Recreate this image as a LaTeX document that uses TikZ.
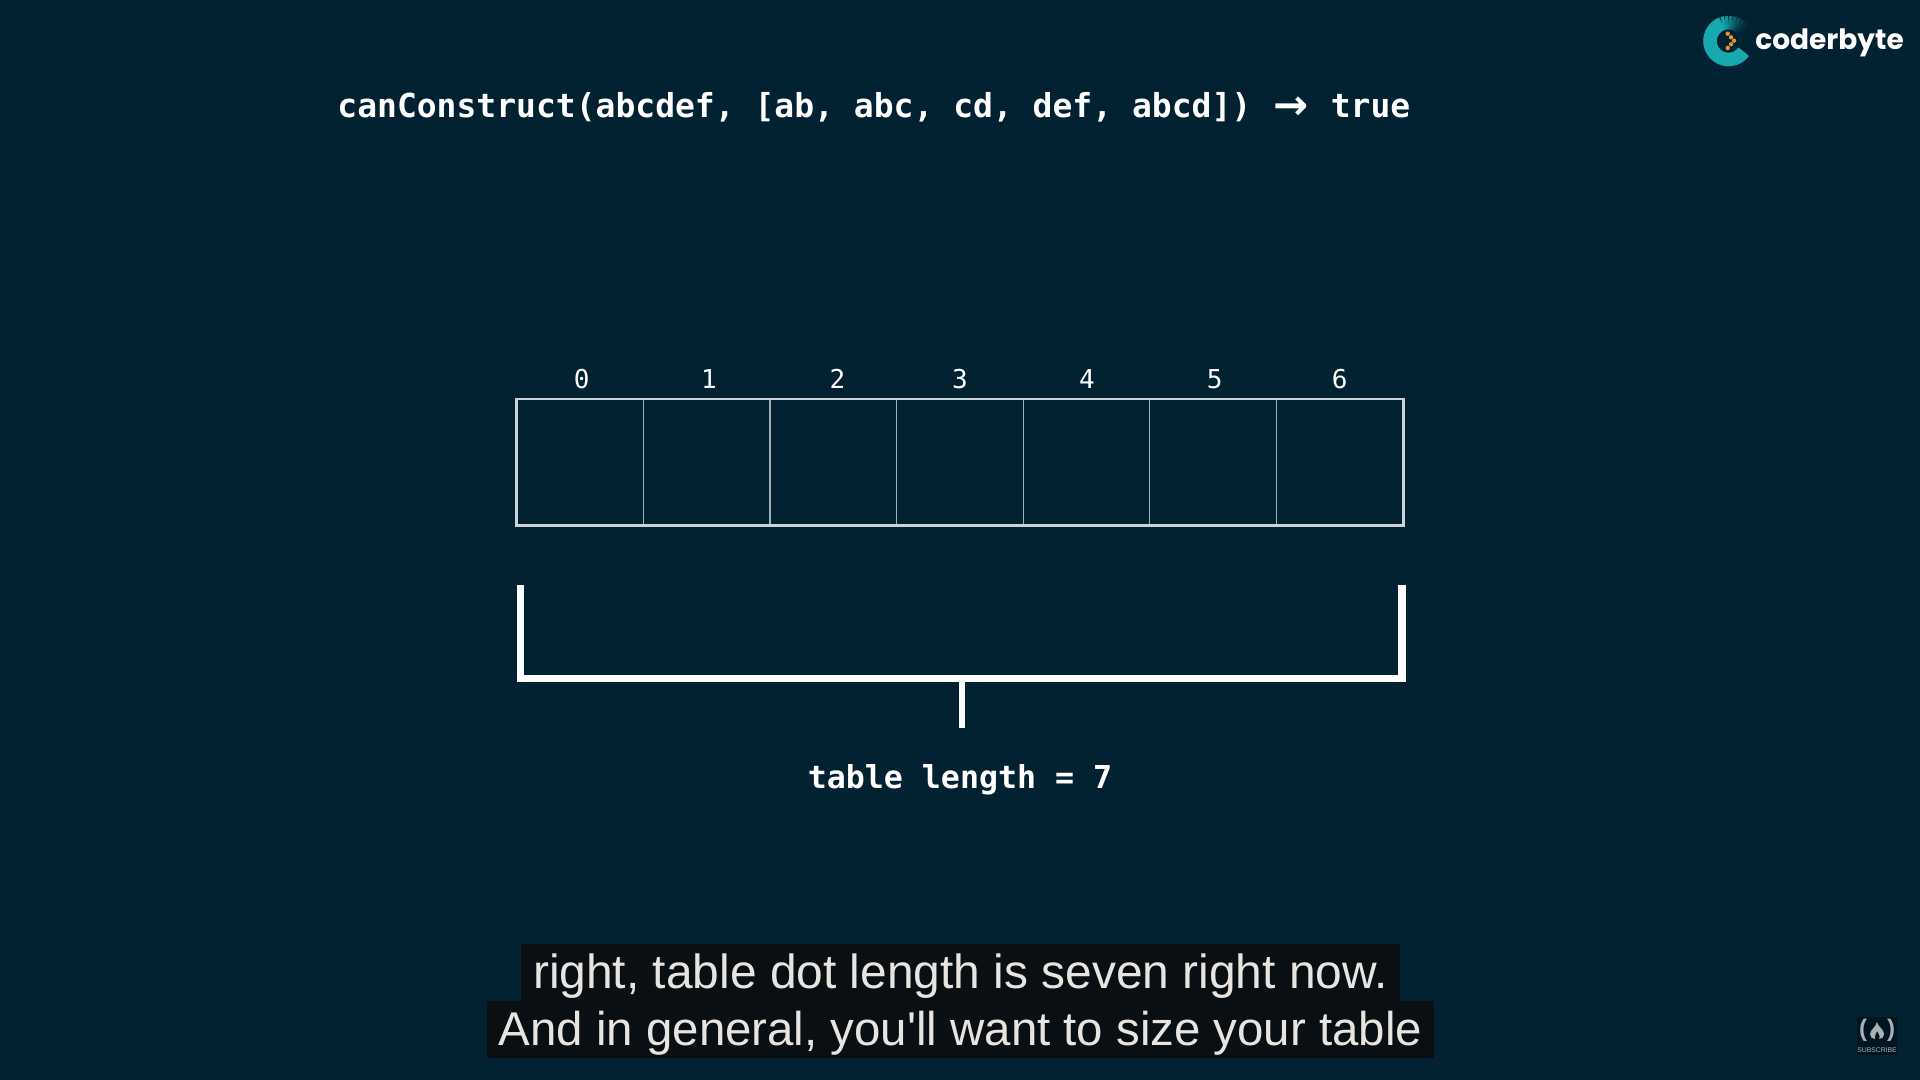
\documentclass[tikz,border=0pt]{standalone}
\usepackage{fontspec}
\setmainfont{Liberation Sans}
\setmonofont{DejaVu Sans Mono}
\newfontfamily\logofont{Poppins}
\newfontfamily\arrowfont{DejaVu Sans}
\usetikzlibrary{positioning}
\definecolor{bgblue}{HTML}{022131}
\definecolor{teallogo}{HTML}{17A9AE}
\definecolor{orangelogo}{HTML}{E8962E}
\definecolor{capbg}{HTML}{0A0F14}
\definecolor{captext}{HTML}{E8E5E1}
\definecolor{gridline}{HTML}{C9D3D8}
\definecolor{gridinner}{HTML}{A3B2B9}
\definecolor{subgrey}{HTML}{A9B0B5}
\tikzset{
  x=0.5pt,y=-0.5pt,
  mono/.style={inner sep=0pt,anchor=base,white,font=\ttfamily\bfseries\fontsize{16.5}{20}\selectfont},
  idx/.style={inner sep=0pt,anchor=base,white,font=\ttfamily\fontsize{13}{15}\selectfont},
  cell/.style={draw=gridinner,line width=0.65pt,minimum width=63.3pt,minimum height=62.6pt,inner sep=0pt},
  bracketline/.style={draw=white,line width=3.7pt,line cap=butt,line join=miter},
  caption/.style={fill=capbg,text=captext,anchor=base,inner sep=0pt,text height=22pt,text depth=6.5pt,font=\fontsize{23.7}{28}\selectfont},
  logodot/.style={circle,fill=orangelogo,inner sep=0pt,minimum size=2.2pt}
}
\begin{document}
\begin{tikzpicture}
  \fill[bgblue] (0,0) rectangle (1920,1080);
  \useasboundingbox (0,0) rectangle (1920,1080);

  \node[mono,anchor=base west] (call) at (337,118) {canConstruct(abcdef, [ab, abc, cd, def, abcd]) \makebox[1.204em]{\raisebox{-1pt}{\arrowfont\bfseries\fontsize{21}{20}\selectfont →}} true};

  \foreach \i in {0,...,6}
    \node[cell] (cell\i) at ({516.8+126.6*(\i+0.5)},462.2) {};
  \draw[gridline,line width=1.35pt] (cell0.north west) rectangle (cell6.south east);
  \foreach \i/\x in {0/581.6,1/709,2/837.5,3/960,4/1087,5/1214.7,6/1339.6}
    \node[idx] (idx\i) at (\x,388) {\i};

  \coordinate (brTL) at (520.5,584.5);
  \coordinate (brBL) at (520.5,678.5);
  \coordinate (brTR) at (1402,584.5);
  \coordinate (brBR) at (1402,678.5);
  \coordinate (stemtop) at (962,678.5);
  \coordinate (stembot) at (962,728);
  \draw[bracketline] (brTL) -- (brBL) -- (brBR) -- (brTR);
  \draw[bracketline,line width=3.4pt] (stemtop) -- (stembot);
  \node[mono,font=\ttfamily\bfseries\fontsize{15.8}{20}\selectfont] (tablelen) at (960,788) {table length = 7};

  \node[caption,minimum width=439.5pt,font=\fontsize{23.95}{28}\selectfont] (capa) at (960.5,988) {right, table dot length is seven right now.};
  \node[caption,minimum width=473.5pt] (capb) at (960.5,1045) {And in general, you\textquotesingle ll want to size your table};

  \coordinate (logoc) at (1728.5,41);
  \draw[teallogo,line width=6.8pt] ([shift=(-110:18.5)]logoc) arc[start angle=-110,delta angle=-215,radius=18.5];
  \foreach \a/\p in {-110/92,-100/80,-90/66,-80/50,-70/36,-60/22,-50/10}
    \draw[teallogo!\p!bgblue,line width=6.8pt] ([shift=(\a:18.5)]logoc) arc[start angle=\a,delta angle=10.5,radius=18.5];
  \foreach \n/\x/\y in {a/1727.7/33.7,b/1731/37.3,c/1734/40.7,d/1731/44.3,e/1727.7/48}
    \node[logodot] (dot\n) at (\x,\y) {};
  \node[inner sep=0pt,anchor=base west,white,font=\logofont\bfseries\fontsize{14}{20}\selectfont] (brand) at (1755,49.5) {coderbyte};

  \fill[black!35!bgblue] (1857,1017) rectangle (1897,1055);
  \node[inner sep=0pt,subgrey,font=\bfseries\fontsize{12}{14}\selectfont] (parl) at (1863,1030) {(};
  \node[inner sep=0pt,subgrey,font=\bfseries\fontsize{12}{14}\selectfont] (parr) at (1891,1030) {)};
  \fill[subgrey] (1877,1022) .. controls (1878,1027) and (1884,1029) .. (1884,1034)
    .. controls (1884,1037) and (1882,1039) .. (1879,1039)
    .. controls (1881,1036) and (1878,1033) .. (1877,1031)
    .. controls (1876,1034) and (1874,1036) .. (1875,1039)
    .. controls (1872,1039) and (1870,1037) .. (1870,1034)
    .. controls (1870,1030) and (1876,1027) .. (1877,1022) -- cycle;
  \node[inner sep=0pt,subgrey,font=\fontsize{3.4}{4}\selectfont] (sub) at (1877,1050) {SUBSCRIBE};
\end{tikzpicture}
\end{document}
